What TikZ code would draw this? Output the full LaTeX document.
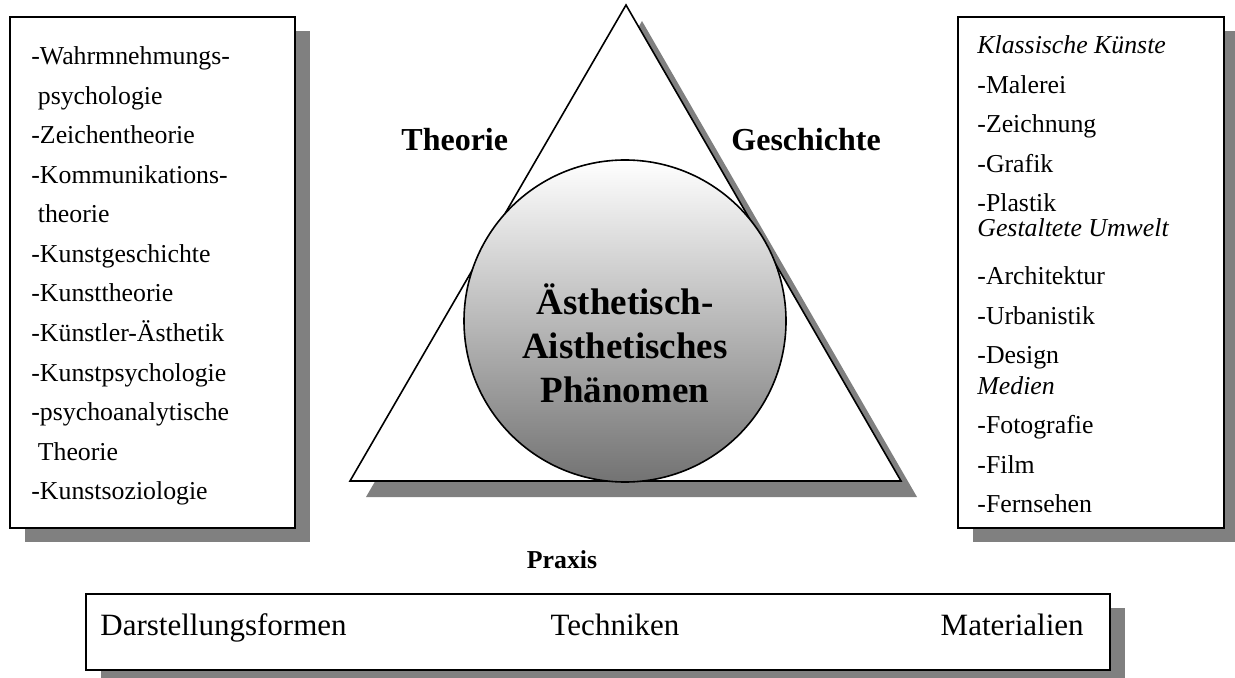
\documentclass[tikz,border=0pt]{standalone}
\usepackage{fontspec}
\setmainfont{Liberation Serif}
\usetikzlibrary{shadows}
\tikzset{
  box/.style={rectangle,draw,line width=0.8pt,fill=white,anchor=north west,
    drop shadow={shadow xshift=7.5pt,shadow yshift=-7pt,fill=black!50,opacity=1}},
  item/.style={anchor=base west,inner sep=0pt,font=\fontsize{12.9}{15}\selectfont},
  ital/.style={item,font=\itshape\fontsize{12.9}{15}\selectfont},
  head/.style={inner sep=0pt,font=\bfseries\fontsize{16}{19}\selectfont},
  big/.style={anchor=base,inner sep=0pt,font=\fontsize{15.5}{18}\selectfont},
}
\begin{document}
\begin{tikzpicture}[x=0.5pt,y=-0.5pt]
            \useasboundingbox (0,0) rectangle (1235,678);
            % Theorie box
            \node[box,minimum width=142.5pt,minimum height=255.5pt] (node1) at (9,16) {};
            \node[item] (node2) at (31,65) {-Wahrmnehmungs-};
            \node[item,yshift=-19.75pt] (node3) at (node2.base west) {\ psychologie};
            \node[item,yshift=-19.75pt] (node4) at (node3.base west) {-Zeichentheorie};
            \node[item,yshift=-19.75pt] (node5) at (node4.base west) {-Kommunikations-};
            \node[item,yshift=-19.75pt] (node6) at (node5.base west) {\ theorie};
            \node[item,yshift=-19.75pt] (node7) at (node6.base west) {-Kunstgeschichte};
            \node[item,yshift=-19.75pt] (node8) at (node7.base west) {-Kunsttheorie};
            \node[item,yshift=-19.75pt] (node9) at (node8.base west) {-Künstler-Ästhetik};
            \node[item,yshift=-19.75pt] (node10) at (node9.base west) {-Kunstpsychologie};
            \node[item,yshift=-19.75pt] (node11) at (node10.base west) {-psychoanalytische};
            \node[item,yshift=-19.75pt] (node12) at (node11.base west) {\ Theorie};
            \node[item,yshift=-19.75pt] (node13) at (node12.base west) {-Kunstsoziologie};
            % Geschichte box
            \node[box,minimum width=133pt,minimum height=255.5pt] (node14) at (957,16) {};
            \node[ital] (node15) at (977,54) {Klassische Künste};
            \node[item,yshift=-19.75pt] (node16) at (node15.base west) {-Malerei};
            \node[item,yshift=-19.75pt] (node17) at (node16.base west) {-Zeichnung};
            \node[item,yshift=-19.75pt] (node18) at (node17.base west) {-Grafik};
            \node[item,yshift=-19.75pt] (node19) at (node18.base west) {-Plastik};
            \node[ital,yshift=-12.5pt] (node20) at (node19.base west) {Gestaltete Umwelt};
            \node[item,yshift=-24pt] (node21) at (node20.base west) {-Architektur};
            \node[item,yshift=-19.75pt] (node22) at (node21.base west) {-Urbanistik};
            \node[item,yshift=-19.75pt] (node23) at (node22.base west) {-Design};
            \node[ital,yshift=-15pt] (node24) at (node23.base west) {Medien};
            \node[item,yshift=-19.75pt] (node25) at (node24.base west) {-Fotografie};
            \node[item,yshift=-19.75pt] (node26) at (node25.base west) {-Film};
            \node[item,yshift=-19.75pt] (node27) at (node26.base west) {-Fernsehen};
            % triangle with circle
            \coordinate (top) at (626,5);
            \coordinate (left) at (350,481);
            \coordinate (right) at (901,481);
            \fill[black!50] ([xshift=8pt,yshift=-8pt]top) -- ([xshift=8pt,yshift=-8pt]left) -- ([xshift=8pt,yshift=-8pt]right) -- cycle;
            \draw[line width=0.8pt,fill=white] (top) -- (left) -- (right) -- cycle;
            \node[circle,draw,line width=0.8pt,minimum size=161pt,inner sep=0pt,top color=white,bottom color=black!55] (node28) at (625,321) {};
            \node[align=center,inner sep=0pt,font=\bfseries\fontsize{18.5}{22}\selectfont] (node29) at (625,343) {Ästhetisch-\\Aisthetisches\\Phänomen};
            \node[head,anchor=base west] (node30) at (401,151) {Theorie};
            \node[head,anchor=base west] (node31) at (731,151) {Geschichte};
            % Praxis
            \node[head,anchor=base,font=\bfseries\fontsize{12.9}{15}\selectfont] (node32) at (562,568) {Praxis};
            \node[box,minimum width=512pt,minimum height=38pt] (node33) at (85,593) {};
            \node[big,anchor=base west] (node34) at (100,635) {Darstellungsformen};
            \node[big] (node35) at (615,635) {Techniken};
            \node[big,anchor=base east] (node36) at (1084,635) {Materialien};
\end{tikzpicture}
\end{document}
